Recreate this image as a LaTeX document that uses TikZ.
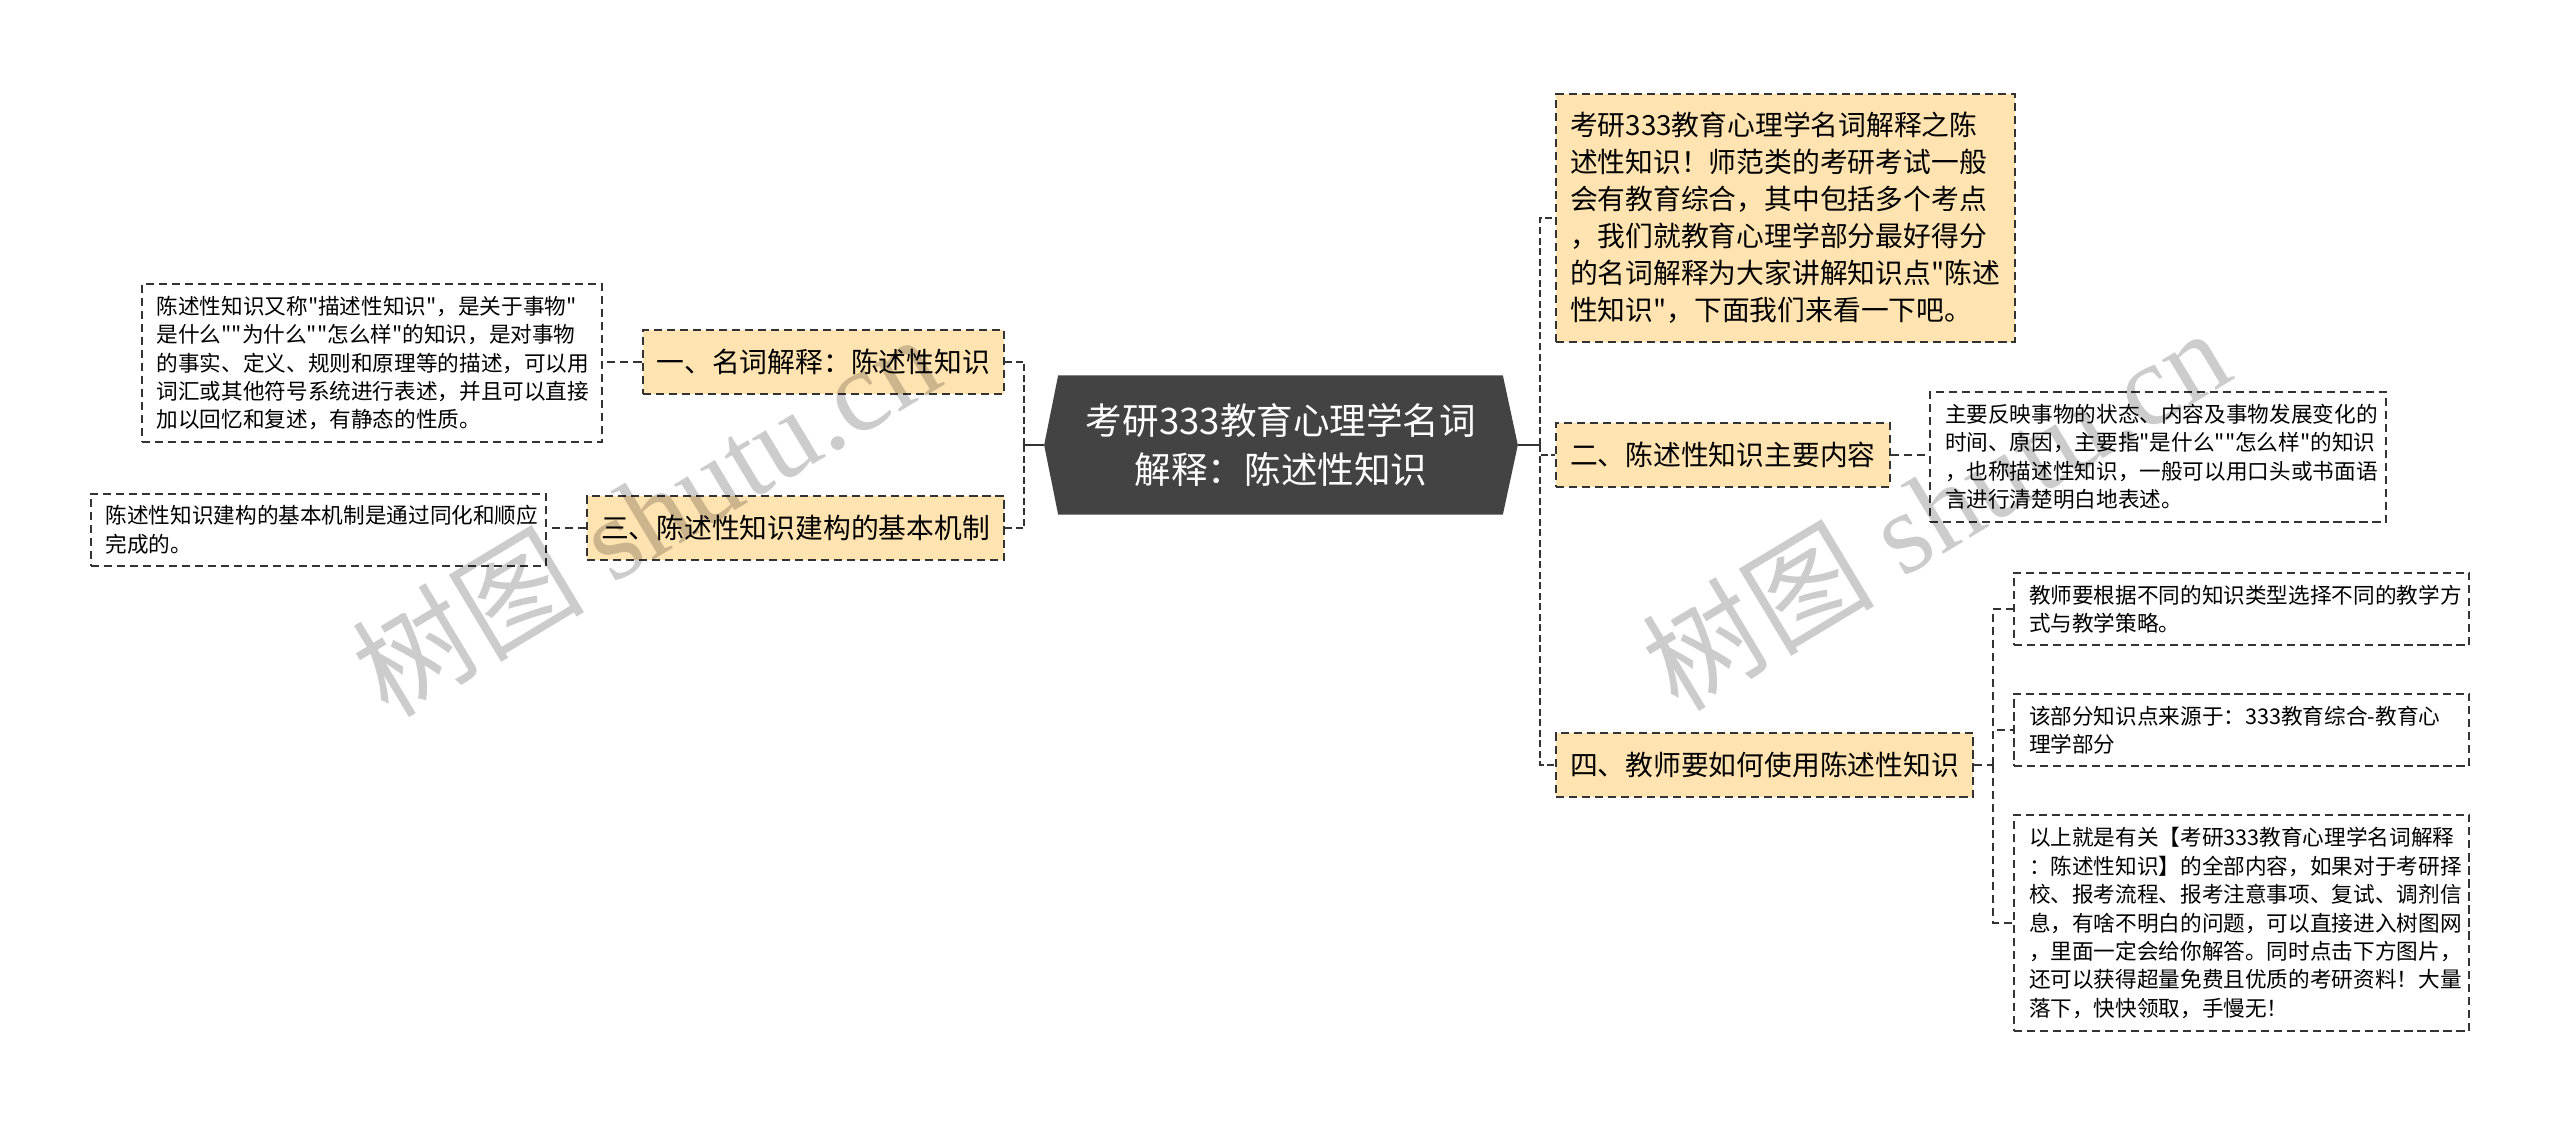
\documentclass[tikz,border=0pt]{standalone}
\usepackage{fontspec}
\newfontfamily\cjk{Noto Sans CJK SC}
\newfontfamily\wmserif{Liberation Serif}
\usetikzlibrary{backgrounds}

\definecolor{topicfill}{HTML}{FFE3B0}
\definecolor{rootfill}{HTML}{434343}
\definecolor{linegray}{HTML}{333333}

\tikzset{
  rootnode/.style={text=white, align=center, minimum width=4.72cm, minimum height=1.38cm, font=\cjk\fontsize{10.4}{13.9}\selectfont},
  topic/.style={draw=linegray, fill=topicfill, line width=.6pt, dash pattern=on 2.3pt off 1.4pt, inner xsep=.14cm, inner ysep=.17cm, minimum height=.64cm, font=\cjk\fontsize{7.9}{10.5}\selectfont, align=left},
  note/.style={draw=linegray, fill=white, line width=.6pt, dash pattern=on 2.3pt off 1.4pt, inner xsep=.15cm, inner ysep=.12cm, font=\cjk\fontsize{6.15}{8.1}\selectfont, align=left},
  trunk/.style={draw=linegray, line width=.7pt},
  bus/.style={draw=linegray, line width=.7pt, dash pattern=on 2pt off 1pt},
  link/.style={draw=linegray, line width=.6pt, dash pattern=on 2.3pt off 1.4pt},
  wmark/.style={rotate=31, text=black, text opacity=.2, font=\wmserif\fontsize{33}{33}\selectfont}
}

\begin{document}
\begin{tikzpicture}[x=0.01cm, y=-0.01cm]
\useasboundingbox (0,0) rectangle (2560,1125);

% centre
\node[rootnode] (root) at (1281,445) {考研333教育心理学名词\\解释：陈述性知识};
\begin{scope}[on background layer]
\fill[rootfill] (root.west) -- ([xshift=.14cm]root.north west) -- ([xshift=-.15cm]root.north east) -- (root.east)
  -- ([xshift=-.15cm]root.south east) -- ([xshift=.14cm]root.south west) -- cycle;
\end{scope}

% left branch
\node[topic, anchor=east] (t1) at (1005,362) {一、名词解释：陈述性知识};
\node[topic, anchor=east] (t3) at (1005,528) {三、陈述性知识建构的基本机制};
\node[note, anchor=east, text width=4.30cm] (n1) at (603,363) {陈述性知识又称"描述性知识"，是关于事物"\\是什么""为什么""怎么样"的知识，是对事物\\的事实、定义、规则和原理等的描述，可以用\\词汇或其他符号系统进行表述，并且可以直接\\加以回忆和复述，有静态的性质。};
\node[note, anchor=east, text width=4.25cm] (n3) at (547,530) {陈述性知识建构的基本机制是通过同化和顺应\\完成的。};

% right branch
\node[topic, anchor=west, text width=4.31cm, inner ysep=.18cm] (intro) at (1555,218) {考研333教育心理学名词解释之陈\\述性知识！师范类的考研考试一般\\会有教育综合，其中包括多个考点\\，我们就教育心理学部分最好得分\\的名词解释为大家讲解知识点"陈述\\性知识"，下面我们来看一下吧。};
\node[topic, anchor=west] (t2) at (1555,455) {二、陈述性知识主要内容};
\node[topic, anchor=west] (t4) at (1555,765) {四、教师要如何使用陈述性知识};
\node[note, anchor=west, text width=4.26cm] (n2) at (1929,457) {主要反映事物的状态、内容及事物发展变化的\\时间、原因，主要指"是什么""怎么样"的知识\\，也称描述性知识，一般可以用口头或书面语\\言进行清楚明白地表述。};
\node[note, anchor=west, text width=4.25cm] (n4a) at (2013,609) {教师要根据不同的知识类型选择不同的教学方\\式与教学策略。};
\node[note, anchor=west, text width=4.25cm] (n4b) at (2013,730) {该部分知识点来源于：333教育综合-教育心\\理学部分};
\node[note, anchor=west, text width=4.25cm] (n4c) at (2013,923) {以上就是有关【考研333教育心理学名词解释\\：陈述性知识】的全部内容，如果对于考研择\\校、报考流程、报考注意事项、复试、调剂信\\息，有啥不明白的问题，可以直接进入树图网\\，里面一定会给你解答。同时点击下方图片，\\还可以获得超量免费且优质的考研资料！大量\\落下，快快领取，手慢无！};

% connectors
\coordinate (lbus) at (1024,445);
\coordinate (rbus) at (1540,445);
\coordinate (fbus) at (1993,765);
\draw[trunk] (root.west) -- (lbus);
\draw[trunk] (root.east) -- (rbus);
\foreach \t in {t1,t3} \draw[bus] (lbus) |- (\t.east);
\foreach \t in {intro,t2,t4} \draw[bus] (rbus) |- (\t.west);
\draw[link] (t1.west) -- (t1.west -| n1.east);
\draw[link] (t3.west) -- (t3.west -| n3.east);
\draw[link] (t2.east) -- (t2.east -| n2.west);
\draw[link] (t4.east) -- (fbus);
\foreach \n in {n4a,n4b,n4c} \draw[link] (fbus) |- (\n.west);

% watermarks
\node[wmark] (wm1) at (645,514) {{\cjk 树图} shutu.cn};
\node[wmark] (wm2) at (1935,508) {{\cjk 树图} shutu.cn};
\end{tikzpicture}
\end{document}
